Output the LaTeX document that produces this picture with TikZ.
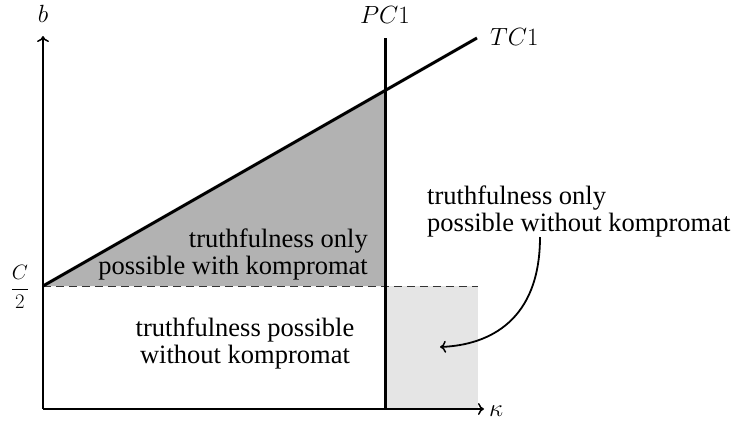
\documentclass[tikz,border=0pt]{standalone}
\usepackage{fontspec}
\usetikzlibrary{arrows.meta}
\newfontfamily\tnr{Liberation Serif}
\begin{document}
\begin{tikzpicture}[x=1pt,y=-1pt,
  tip/.style={-{Computer Modern Rightarrow[length=6pt,width=12pt,line width=1.5pt]}},
  axis/.style={line width=1.5pt,tip},
  thickline/.style={line width=3pt},
  lbl/.style={font=\tnr\fontsize{26.5}{27}\selectfont, inner sep=0pt},
  mlbl/.style={font=\fontsize{24.88}{27}\selectfont, inner sep=0pt}]
\useasboundingbox (0,0) rectangle (734,421);
\coordinate (O) at (43,409);
\coordinate (Ytop) at (43,36);
\coordinate (Xend) at (484,409);
\coordinate (Half) at (43,286);
\coordinate (PCtop) at (385,38);
\coordinate (PCbot) at (385,409);
\coordinate (PChalf) at (385,286);
\coordinate (TCend) at (477,38);
\coordinate (Dend) at (478,286);
\coordinate (Meet) at (385,90.6);
% fills
\fill[black!30] (Half) -- (Meet) -- (PChalf) -- cycle;
\fill[black!10] (PChalf) rectangle (478,409);
% dashed
\draw[line width=0.9pt, dash pattern=on 8pt off 5pt, black!80] (Half) -- (Dend);
% axes
\draw[axis] (O) -- (Ytop);
\draw[axis] (O) -- (Xend);
% lines
\draw[thickline] (PCbot) -- (PCtop);
\draw[thickline] (Half) -- (TCend);
% labels
\node[mlbl] (b) at (43,14) {$b$};
\node[mlbl, anchor=west] (k) at (489,411) {$\kappa$};
\node[mlbl] (pc) at (385,15) {$PC1$};
\node[mlbl, anchor=west] (tc) at (490,37) {$TC1$};
\node[font=\fontsize{20.74}{24}\selectfont, inner sep=0pt] (c2) at (20,287) {$\displaystyle\frac{C}{2}$};
\node[lbl, align=right, anchor=south east] (t1) at (368,280) {truthfulness only\\possible with kompromat};
\node[lbl, align=center] (t2) at (245,343) {truthfulness possible\\without kompromat};
\node[lbl, align=left, anchor=west] (t3) at (427,211) {truthfulness only\\possible without kompromat};
\coordinate (ae) at (440,347);
\draw[line width=1.8pt,tip] (540,237) .. controls (540,320) and (490,345) .. (ae);
\end{tikzpicture}
\end{document}
